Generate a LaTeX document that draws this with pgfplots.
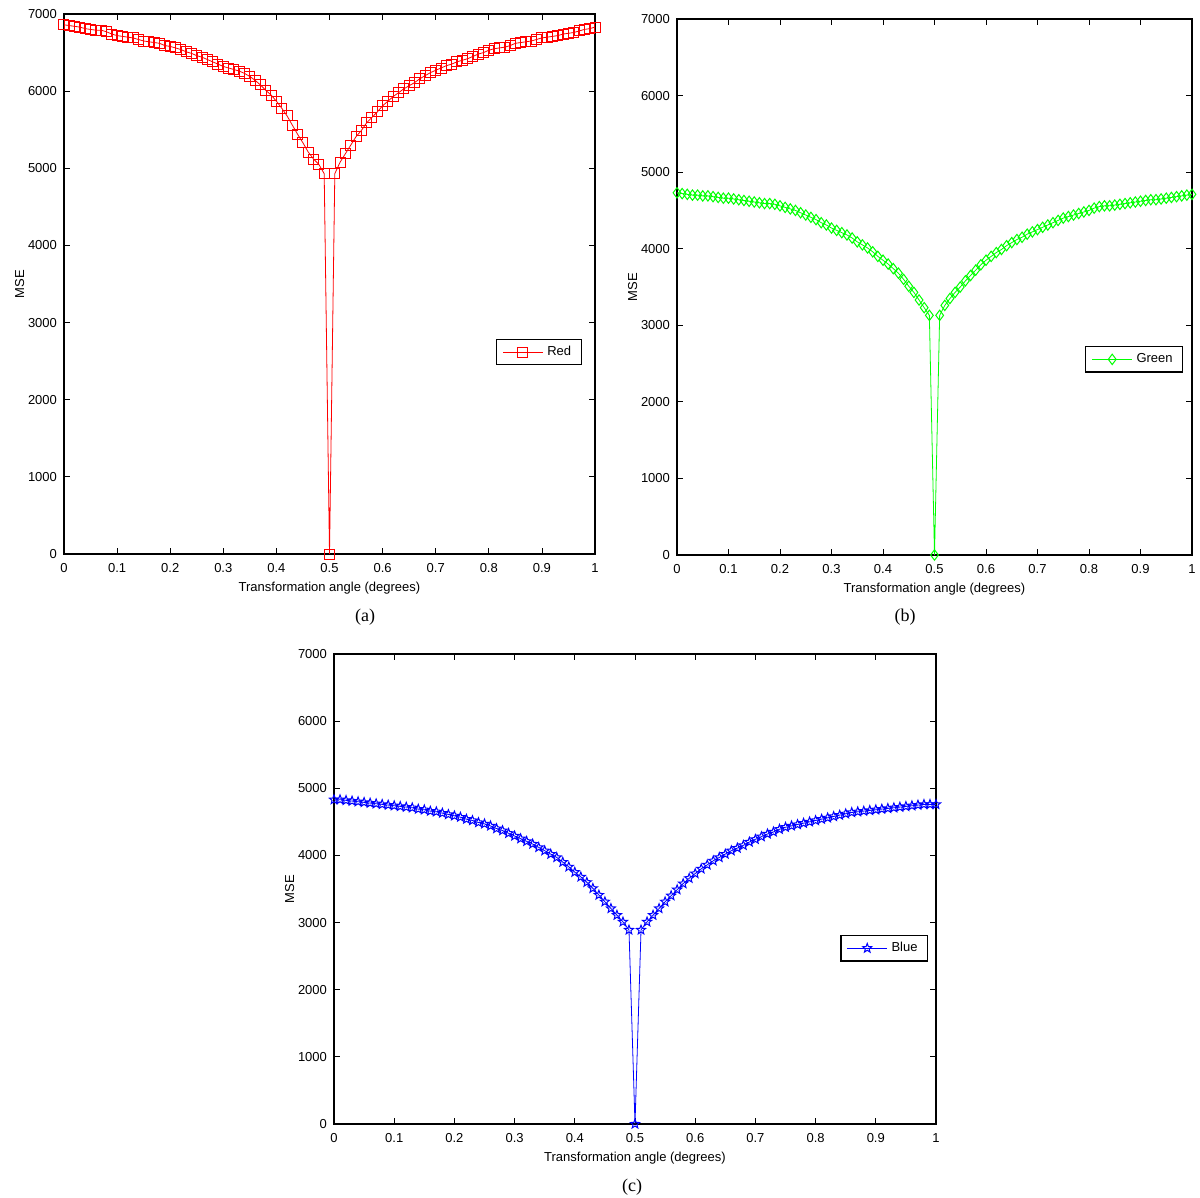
\documentclass[border=0pt]{standalone}
\usepackage{fontspec}
\setmainfont{Liberation Sans}
\newfontfamily\capfont{Liberation Serif}
\usepackage{pgfplots}
\pgfplotsset{compat=1.18}
\usetikzlibrary{plotmarks}

% five-pointed open star, like the matlab 'p' marker
\pgfdeclareplotmark{ostar}{%
  \pgfpathmoveto{\pgfqpointpolar{90}{\pgfplotmarksize}}%
  \pgfpathlineto{\pgfqpointpolar{126}{0.42\pgfplotmarksize}}%
  \pgfpathlineto{\pgfqpointpolar{162}{\pgfplotmarksize}}%
  \pgfpathlineto{\pgfqpointpolar{198}{0.42\pgfplotmarksize}}%
  \pgfpathlineto{\pgfqpointpolar{234}{\pgfplotmarksize}}%
  \pgfpathlineto{\pgfqpointpolar{270}{0.42\pgfplotmarksize}}%
  \pgfpathlineto{\pgfqpointpolar{306}{\pgfplotmarksize}}%
  \pgfpathlineto{\pgfqpointpolar{342}{0.42\pgfplotmarksize}}%
  \pgfpathlineto{\pgfqpointpolar{18}{\pgfplotmarksize}}%
  \pgfpathlineto{\pgfqpointpolar{54}{0.42\pgfplotmarksize}}%
  \pgfpathclose
  \pgfusepathqstroke
}

\pgfplotstableread{
x y
0.00 6860
0.01 6850
0.02 6840
0.03 6830
0.04 6810
0.05 6800
0.06 6790
0.07 6790
0.08 6770
0.09 6740
0.10 6720
0.11 6710
0.12 6700
0.13 6690
0.14 6670
0.15 6650
0.16 6640
0.17 6630
0.18 6620
0.19 6590
0.20 6580
0.21 6560
0.22 6540
0.23 6510
0.24 6490
0.25 6460
0.26 6440
0.27 6410
0.28 6380
0.29 6350
0.30 6320
0.31 6300
0.32 6280
0.33 6260
0.34 6230
0.35 6190
0.36 6140
0.37 6080
0.38 6010
0.39 5950
0.40 5870
0.41 5780
0.42 5680
0.43 5560
0.44 5440
0.45 5330
0.46 5210
0.47 5120
0.48 5050
0.49 4930
0.50 0
0.51 4930
0.52 5080
0.53 5190
0.54 5300
0.55 5410
0.56 5490
0.57 5590
0.58 5660
0.59 5730
0.60 5810
0.61 5870
0.62 5930
0.63 5980
0.64 6030
0.65 6070
0.66 6110
0.67 6160
0.68 6200
0.69 6240
0.70 6270
0.71 6300
0.72 6330
0.73 6350
0.74 6380
0.75 6400
0.76 6420
0.77 6450
0.78 6480
0.79 6500
0.80 6530
0.81 6550
0.82 6560
0.83 6570
0.84 6590
0.85 6620
0.86 6630
0.87 6640
0.88 6650
0.89 6670
0.90 6690
0.91 6700
0.92 6710
0.93 6720
0.94 6740
0.95 6750
0.96 6760
0.97 6780
0.98 6800
0.99 6810
1.00 6830
}\redtab

\pgfplotstableread{
x y
0.00 4730
0.01 4720
0.02 4710
0.03 4700
0.04 4700
0.05 4690
0.06 4690
0.07 4680
0.08 4670
0.09 4660
0.10 4660
0.11 4650
0.12 4640
0.13 4630
0.14 4620
0.15 4610
0.16 4600
0.17 4590
0.18 4590
0.19 4580
0.20 4560
0.21 4540
0.22 4520
0.23 4500
0.24 4470
0.25 4440
0.26 4410
0.27 4380
0.28 4340
0.29 4310
0.30 4270
0.31 4240
0.32 4210
0.33 4180
0.34 4140
0.35 4090
0.36 4050
0.37 4010
0.38 3960
0.39 3900
0.40 3850
0.41 3800
0.42 3740
0.43 3680
0.44 3600
0.45 3510
0.46 3430
0.47 3330
0.48 3230
0.49 3130
0.50 0
0.51 3130
0.52 3260
0.53 3350
0.54 3430
0.55 3500
0.56 3580
0.57 3650
0.58 3720
0.59 3790
0.60 3850
0.61 3900
0.62 3950
0.63 3990
0.64 4040
0.65 4080
0.66 4120
0.67 4150
0.68 4190
0.69 4220
0.70 4250
0.71 4280
0.72 4310
0.73 4340
0.74 4370
0.75 4400
0.76 4420
0.77 4440
0.78 4460
0.79 4480
0.80 4500
0.81 4530
0.82 4550
0.83 4560
0.84 4560
0.85 4570
0.86 4580
0.87 4590
0.88 4600
0.89 4610
0.90 4620
0.91 4630
0.92 4640
0.93 4640
0.94 4650
0.95 4660
0.96 4670
0.97 4680
0.98 4690
0.99 4700
1.00 4710
}\greentab

\pgfplotstableread{
x y
0.00 4830
0.01 4830
0.02 4820
0.03 4810
0.04 4800
0.05 4790
0.06 4780
0.07 4770
0.08 4760
0.09 4750
0.10 4740
0.11 4730
0.12 4720
0.13 4710
0.14 4690
0.15 4680
0.16 4660
0.17 4650
0.18 4630
0.19 4610
0.20 4590
0.21 4570
0.22 4540
0.23 4520
0.24 4490
0.25 4470
0.26 4440
0.27 4400
0.28 4370
0.29 4330
0.30 4290
0.31 4250
0.32 4210
0.33 4170
0.34 4120
0.35 4070
0.36 4020
0.37 3970
0.38 3900
0.39 3830
0.40 3750
0.41 3680
0.42 3600
0.43 3510
0.44 3410
0.45 3310
0.46 3210
0.47 3110
0.48 3010
0.49 2890
0.50 0
0.51 2890
0.52 3010
0.53 3110
0.54 3210
0.55 3310
0.56 3400
0.57 3490
0.58 3580
0.59 3660
0.60 3730
0.61 3800
0.62 3860
0.63 3920
0.64 3970
0.65 4020
0.66 4070
0.67 4110
0.68 4150
0.69 4200
0.70 4240
0.71 4280
0.72 4320
0.73 4350
0.74 4390
0.75 4420
0.76 4440
0.77 4460
0.78 4480
0.79 4500
0.80 4520
0.81 4540
0.82 4560
0.83 4580
0.84 4600
0.85 4620
0.86 4640
0.87 4650
0.88 4660
0.89 4670
0.90 4680
0.91 4690
0.92 4700
0.93 4710
0.94 4720
0.95 4730
0.96 4740
0.97 4750
0.98 4760
0.99 4760
1.00 4760
}\bluetab

\pgfplotsset{
  mse/.style={
    scale only axis,
    anchor=south west,
    xmin=0,xmax=1,ymin=0,ymax=7000,
    xtick={0,0.1,...,1},
    ytick={0,1000,...,7000},
    scaled y ticks=false,
    /pgf/number format/1000 sep={},
    /pgf/number format/assume math mode=true,
    tick align=inside,
    major tick length=3pt,
    axis line style={line width=0.6pt},
    every tick/.style={black,line width=0.4pt},
    tick label style={font=\fontsize{6.5}{7.5}\selectfont},
    xticklabel style={yshift=-1.2pt},
    label style={font=\fontsize{6.5}{7.5}\selectfont},
    xlabel={Transformation angle (degrees)},
    ylabel={MSE},
    xlabel style={yshift=2pt},
    ylabel style={yshift=-5pt},
    legend cell align=left,
    legend style={font=\fontsize{6.5}{7.5}\selectfont,draw=black,line width=0.6pt,
      inner xsep=3pt,inner ysep=1.3pt,row sep=0pt},
    legend image code/.code={%
      \draw[mark repeat=2,mark phase=2,#1]
        plot coordinates {(0cm,0cm) (0.35cm,0cm) (0.7cm,0cm)};},
    legend image post style={line width=0.4pt},
  },
}

\begin{document}
\begin{tikzpicture}
\useasboundingbox (0,0) rectangle (600pt,-599pt);

\begin{axis}[mse,at={(32pt,-277pt)},width=265.5pt,height=270pt,
  legend style={at={(0.975,0.374)},anchor=east}]
\addplot[color=red,line width=0.4pt,mark=square,mark size=2.5pt,mark options={line width=0.5pt}] table[x=x,y=y] {\redtab};
\addlegendentry{Red}
\end{axis}

\begin{axis}[mse,at={(338.5pt,-277.5pt)},width=257.5pt,height=268pt,
  legend style={at={(0.983,0.365)},anchor=east}]
\addplot[color=green,line width=0.4pt,mark=diamond,mark size=2.6pt,mark options={line width=0.5pt}] table[x=x,y=y] {\greentab};
\addlegendentry{Green}
\end{axis}

\begin{axis}[mse,at={(167pt,-562pt)},width=301pt,height=235pt,
  legend style={at={(0.987,0.374)},anchor=east}]
\addplot[color=blue,line width=0.4pt,mark=ostar,mark size=2.4pt,mark options={line width=0.5pt}] table[x=x,y=y] {\bluetab};
\addlegendentry{Blue}
\end{axis}

\node[font=\capfont\fontsize{9}{10}\selectfont] at (182.5pt,-308.5pt) {(a)};
\node[font=\capfont\fontsize{9}{10}\selectfont] at (452.5pt,-308.5pt) {(b)};
\node[font=\capfont\fontsize{9}{10}\selectfont] at (316pt,-593.5pt) {(c)};
\end{tikzpicture}
\end{document}
